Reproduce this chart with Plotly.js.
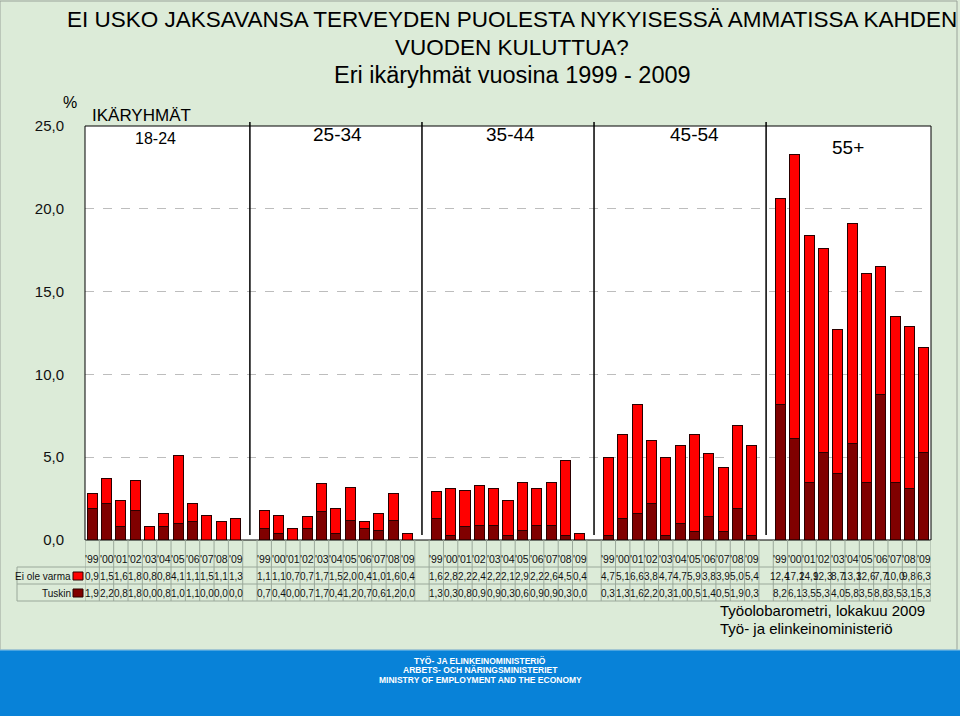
<!DOCTYPE html>
<html>
<head>
<meta charset="utf-8">
<script src="https://cdn.plot.ly/plotly-3.0.1.min.js"></script>
<style>html,body{margin:0;padding:0;background:#dcebd8;}#chart{width:960px;height:716px;}</style>
</head>
<body>
<div id="chart"></div>
<script>
// ---- DATA ----
const groups = ["18-24", "25-34", "35-44", "45-54", "55+"];
const years = ["'99", "'00", "'01", "'02", "'03", "'04", "'05", "'06", "'07", "'08", "'09"];
const eiOleVarma = [
  [0.9, 1.5, 1.6, 1.8, 0.8, 0.8, 4.1, 1.1, 1.5, 1.1, 1.3],
  [1.1, 1.1, 0.7, 0.7, 1.7, 1.5, 2.0, 0.4, 1.0, 1.6, 0.4],
  [1.6, 2.8, 2.2, 2.4, 2.2, 2.1, 2.9, 2.2, 2.6, 4.5, 0.4],
  [4.7, 5.1, 6.6, 3.8, 4.7, 4.7, 5.9, 3.8, 3.9, 5.0, 5.4],
  [12.4, 17.2, 14.9, 12.3, 8.7, 13.3, 12.6, 7.7, 10.0, 9.8, 6.3]
];
const tuskin = [
  [1.9, 2.2, 0.8, 1.8, 0.0, 0.8, 1.0, 1.1, 0.0, 0.0, 0.0],
  [0.7, 0.4, 0.0, 0.7, 1.7, 0.4, 1.2, 0.7, 0.6, 1.2, 0.0],
  [1.3, 0.3, 0.8, 0.9, 0.9, 0.3, 0.6, 0.9, 0.9, 0.3, 0.0],
  [0.3, 1.3, 1.6, 2.2, 0.3, 1.0, 0.5, 1.4, 0.5, 1.9, 0.3],
  [8.2, 6.1, 3.5, 5.3, 4.0, 5.8, 3.5, 8.8, 3.5, 3.1, 5.3]
];
const seriesNames = ["Ei ole varma", "Tuskin"];
const yTicks = [0, 5, 10, 15, 20, 25];

// ---- LAYOUT HELPERS ----
const L = 85, R = 931, T = 126, B = 540;
const W = R - L, H = B - T;
const px = p => (p - L) / W;
const py = p => (B - p) / H;
const slot = 12; // 11 years + 1 gap
const nCat = groups.length * slot - 1;

const xs = [], yE = [], yT = [];
groups.forEach((g, gi) => {
  years.forEach((yr, k) => {
    xs.push(gi * slot + k);
    yE.push(eiOleVarma[gi][k]);
    yT.push(tuskin[gi][k]);
  });
});

const fmt = v => v.toFixed(1).replace('.', ',');
const FONT = "Liberation Sans, Arial, sans-serif";

const traces = [
  {type: 'bar', x: xs, y: yT, name: seriesNames[1], width: 0.7,
   marker: {color: '#800000', line: {color: '#2a0000', width: 1}}, hoverinfo: 'y'},
  {type: 'bar', x: xs, y: yE, name: seriesNames[0], width: 0.7,
   marker: {color: '#ff0000', line: {color: '#2a0000', width: 1}}, hoverinfo: 'y'}
];

const shapes = [];
const annotations = [];

// footer band & frame
shapes.push({type: 'rect', xref: 'paper', yref: 'paper', x0: px(0), x1: px(957), y0: py(650), y1: py(1),
  line: {color: '#9aa39a', width: 1}, fillcolor: 'rgba(0,0,0,0)', layer: 'below'});
shapes.push({type: 'rect', xref: 'paper', yref: 'paper', x0: px(0), x1: px(960), y0: py(716), y1: py(650),
  line: {width: 0}, fillcolor: '#0882d8', layer: 'below'});
shapes.push({type: 'line', xref: 'paper', yref: 'paper', x0: px(0), x1: px(960), y0: py(650), y1: py(650),
  line: {color: '#8cc6e8', width: 1}});

// plot border
shapes.push({type: 'rect', xref: 'paper', yref: 'paper', x0: 0, x1: 1, y0: 0, y1: 1,
  line: {color: '#000', width: 1}, fillcolor: 'rgba(0,0,0,0)'});

// group separators
for (let gi = 1; gi < groups.length; gi++) {
  const xc = gi * slot - 1;
  shapes.push({type: 'line', xref: 'x', yref: 'paper', x0: xc, x1: xc, y0: py(535), y1: py(122),
    line: {color: '#000', width: 1.5}});
}

// data table grid
const gridC = '#9aa89a';
for (let i = 0; i <= nCat; i++) {
  const xb = i - 0.5;
  shapes.push({type: 'line', xref: 'x', yref: 'paper', x0: xb, x1: xb, y0: py(540), y1: py(601),
    line: {color: gridC, width: 1}});
}
[567, 584, 601].forEach(yy => {
  shapes.push({type: 'line', xref: 'paper', yref: 'paper', x0: px(17), x1: 1, y0: py(yy), y1: py(yy),
    line: {color: gridC, width: 1}});
});
shapes.push({type: 'line', xref: 'paper', yref: 'paper', x0: px(17), x1: px(17), y0: py(567), y1: py(601),
  line: {color: gridC, width: 1}});

// legend keys
shapes.push({type: 'rect', xref: 'paper', yref: 'paper', x0: px(73), x1: px(83), y0: py(580), y1: py(572),
  fillcolor: '#ff0000', line: {color: '#2a0000', width: 1}});
shapes.push({type: 'rect', xref: 'paper', yref: 'paper', x0: px(73), x1: px(83), y0: py(597), y1: py(589),
  fillcolor: '#800000', line: {color: '#2a0000', width: 1}});

// table texts
const tf = {family: FONT, size: 10, color: '#111'};
groups.forEach((g, gi) => {
  years.forEach((yr, k) => {
    const xi = gi * slot + k;
    annotations.push({x: xi, xref: 'x', y: py(559), yref: 'paper', text: yr, showarrow: false, font: {family: FONT, size: 10.5, color: '#111'}, xanchor: 'center', yanchor: 'middle'});
    annotations.push({x: xi, xref: 'x', y: py(576), yref: 'paper', text: fmt(eiOleVarma[gi][k]), showarrow: false, font: tf, xanchor: 'center', yanchor: 'middle'});
    annotations.push({x: xi, xref: 'x', y: py(593), yref: 'paper', text: fmt(tuskin[gi][k]), showarrow: false, font: tf, xanchor: 'center', yanchor: 'middle'});
  });
});
annotations.push({x: px(73), xref: 'paper', y: py(576), yref: 'paper', text: seriesNames[0], showarrow: false, font: tf, xanchor: 'right', yanchor: 'middle'});
annotations.push({x: px(73), xref: 'paper', y: py(593), yref: 'paper', text: seriesNames[1], showarrow: false, font: tf, xanchor: 'right', yanchor: 'middle'});

// titles
const titleLines = ["EI USKO JAKSAVANSA TERVEYDEN PUOLESTA NYKYISESSÄ AMMATISSA KAHDEN", "VUODEN KULUTTUA?", "Eri ikäryhmät vuosina 1999 - 2009"];
const titleSizes = [22.5, 22.5, 23.5];
[20, 47, 75].forEach((yy, i) => {
  annotations.push({x: px(512), xref: 'paper', y: py(yy), yref: 'paper', text: titleLines[i], showarrow: false,
    font: {family: FONT, size: titleSizes[i], color: '#000'}, xanchor: 'center', yanchor: 'middle'});
});

// axis labels / group labels
annotations.push({x: px(70), xref: 'paper', y: py(103), yref: 'paper', text: '%', showarrow: false, font: {family: FONT, size: 16, color: '#000'}, xanchor: 'center', yanchor: 'middle'});
annotations.push({x: px(90), xref: 'paper', y: py(115), yref: 'paper', text: 'IKÄRYHMÄT', showarrow: false, font: {family: FONT, size: 17, color: '#000'}, xanchor: 'left', yanchor: 'middle'});
const groupLabelPos = [[155, 138, 16], [337, 134, 19], [510, 134, 19], [694, 134, 19], [848, 147, 19]];
groups.forEach((g, gi) => {
  const p = groupLabelPos[gi];
  annotations.push({x: px(p[0]), xref: 'paper', y: py(p[1]), yref: 'paper', text: g, showarrow: false,
    font: {family: FONT, size: p[2], color: '#000'}, xanchor: 'center', yanchor: 'middle'});
});

// source
annotations.push({x: px(718), xref: 'paper', y: py(610), yref: 'paper', text: 'Työolobarometri, lokakuu 2009', showarrow: false, font: {family: FONT, size: 15, color: '#000'}, xanchor: 'left', yanchor: 'middle'});
annotations.push({x: px(718), xref: 'paper', y: py(628), yref: 'paper', text: 'Työ- ja elinkeinoministeriö', showarrow: false, font: {family: FONT, size: 15, color: '#000'}, xanchor: 'left', yanchor: 'middle'});

// footer
const footer = ["TYÖ- JA ELINKEINOMINISTERIÖ", "ARBETS- OCH NÄRINGSMINISTERIET", "MINISTRY OF EMPLOYMENT AND THE ECONOMY"];
[661, 670, 680].forEach((yy, i) => {
  annotations.push({x: px(480), xref: 'paper', y: py(yy), yref: 'paper', text: '<b>' + footer[i] + '</b>', showarrow: false,
    font: {family: FONT, size: 8.5, color: '#fff'}, xanchor: 'center', yanchor: 'middle'});
});

const layout = {
  width: 960, height: 716,
  margin: {l: L, r: 960 - R, t: T, b: 716 - B, pad: 0},
  paper_bgcolor: '#dcebd8', plot_bgcolor: '#ffffff',
  barmode: 'stack', showlegend: false, separators: ',.',
  xaxis: {range: [-0.5, nCat - 0.5], showticklabels: false, showgrid: false, zeroline: false, ticks: '', fixedrange: true},
  yaxis: {range: [0, 25], tickvals: yTicks, tickformat: '.1f', showgrid: true, gridcolor: '#bdbdbd', griddash: 'dash', gridwidth: 1,
    zeroline: false, ticks: 'outside', ticklen: 17, tickcolor: 'rgba(0,0,0,0)',
    tickfont: {family: FONT, size: 15, color: '#111'}, fixedrange: true},
  shapes: shapes, annotations: annotations
};

Plotly.newPlot('chart', traces, layout, {displayModeBar: false, staticPlot: true});
</script>
</body>
</html>
